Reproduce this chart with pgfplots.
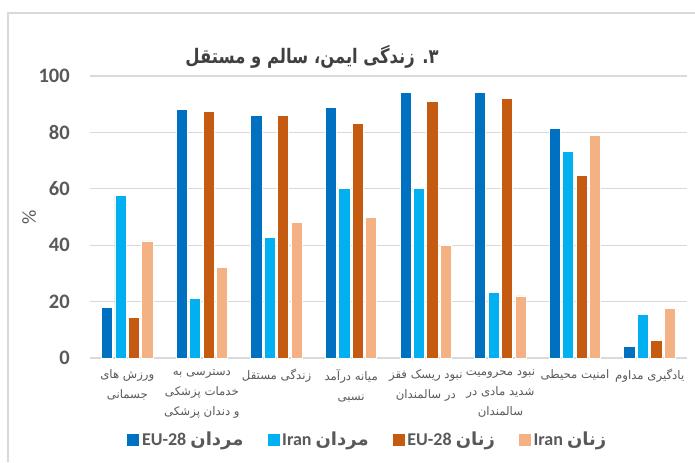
\documentclass[border=0pt]{standalone}
\usepackage{pgfplots}
\pgfplotsset{compat=1.18}
\usepackage{fontspec}
\setmainfont{Carlito}
\newfontfamily\arabicfont[Script=Arabic]{DejaVu Sans}
\TeXXeTstate=1
\newcommand{\fa}[1]{{\arabicfont\beginR #1\endR}}
\definecolor{eublue}{HTML}{0070C0}
\definecolor{irblue}{HTML}{00B0F0}
\definecolor{euorange}{HTML}{C55A11}
\definecolor{irpeach}{HTML}{F4B183}
\definecolor{gridgray}{HTML}{D9D9D9}
\definecolor{txtgray}{HTML}{595959}
\definecolor{titlegray}{HTML}{404040}
\begin{document}
\begin{tikzpicture}
\begin{axis}[
  at={(0pt,0pt)}, anchor=south west,
  scale only axis, width=447.75pt, height=211.5pt,
  xmin=-0.5, xmax=7.5, ymin=0, ymax=100,
  enlargelimits=false,
  axis x line*=bottom, axis y line*=left,
  separate axis lines,
  x axis line style={draw=gridgray, line width=1.1pt, -},
  y axis line style={draw=none},
  ytick={0,20,...,100},
  xtick={0,...,7},
  major tick length=0pt,
  ymajorgrids,
  grid style={gridgray, line width=0.8pt},
  /pgf/number format/assume math mode=true,
  yticklabel style={font=\bfseries\fontsize{15.4}{18}\selectfont, text=txtgray, anchor=east, inner sep=0pt, xshift=-15pt},
  xticklabel style={align=center, font=\fontsize{8.8}{15}\selectfont, text=txtgray, anchor=north, yshift=-5pt},
  xticklabels={
    {\fa{ورزش های}\\\fa{جسمانی}},
    {\fa{دسترسی به}\\\fa{خدمات پزشکی}\\\fa{و دندان پزشکی}},
    {\fa{زندگی مستقل}},
    {\fa{میانه درآمد}\\\fa{نسبی}},
    {\fa{نبود ریسک فقز}\\\fa{در سالمندان}},
    {\fa{نبود محرومیت}\\\fa{شدید مادی در}\\\fa{سالمندان}},
    {\fa{امنیت محیطی}},
    {\fa{یادگیری مداوم}}
  },
  ylabel={\%},
  ylabel style={at={(axis description cs:-0.102,0.5)}, anchor=center, font=\fontsize{15}{18}\selectfont, text=txtgray},
  legend columns=4,
  legend style={at={(axis description cs:0.466,-0.291)}, anchor=center, draw=none, fill=none,
    font=\bfseries\fontsize{13.5}{16}\selectfont, text=txtgray,
    /tikz/every even column/.append style={column sep=16pt}},
  legend image code/.code={\path[#1,draw=none] (0pt,-4.5pt) rectangle (9pt,4.5pt);},
  every axis plot/.append style={ybar, bar width=0.15, draw=white, line width=0.7pt},
  clip=false,
]
\addplot[fill=eublue, bar shift=-0.27] coordinates {(0,18) (1,88) (2,86) (3,89) (4,94) (5,94) (6,81.5) (7,4)};
\addlegendentry{EU-28 \fa{مردان}}
\addplot[fill=irblue, bar shift=-0.09] coordinates {(0,57.5) (1,21) (2,42.7) (3,60) (4,60) (5,23.4) (6,73.4) (7,15.6)};
\addlegendentry{Iran \fa{مردان}}
\addplot[fill=euorange, bar shift=0.09] coordinates {(0,14.2) (1,87.5) (2,86) (3,83) (4,91) (5,92) (6,64.7) (7,6.1)};
\addlegendentry{EU-28 \fa{زنان}}
\addplot[fill=irpeach, bar shift=0.27] coordinates {(0,41.5) (1,32) (2,48.2) (3,50) (4,40) (5,22) (6,79) (7,17.7)};
\addlegendentry{Iran \fa{زنان}}
\end{axis}
\begin{scope}[x=0.75pt,y=0.75pt]
\draw[gridgray, line width=1.1pt] (-82,-104) -- (-82,345) -- (606,345);
\node[font=\arabicfont\bfseries\fontsize{15}{18}\selectfont, text=titlegray, xscale=0.82] at (222,301) {\beginR ۳. زندگی ایمن، سالم و مستقل\endR};
\pgfresetboundingbox
\path[use as bounding box] (-90,-104) rectangle (605,358);
\end{scope}
\end{tikzpicture}
\end{document}
